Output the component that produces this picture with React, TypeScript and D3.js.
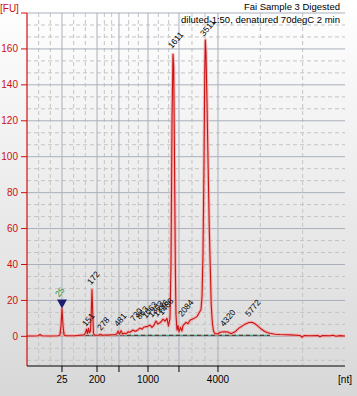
import React from "react";
import * as d3 from "d3";

// ---- data ----
// migration time (s) and fluorescence (FU) of the red electropherogram trace
const traceTime = [
  20.0, 21.0, 21.83, 22.17, 22.5, 23.83, 25.17, 25.5, 25.67, 25.83, 26.0, 26.17, 26.5, 28.0, 28.83,
  29.5, 29.75, 29.92, 30.08, 30.25, 30.42, 30.58, 30.72, 30.83, 30.95, 31.08, 31.33, 32.0, 32.25,
  32.5, 33.83, 34.67, 35.0, 35.17, 35.42, 35.67, 35.92, 36.25, 36.5, 36.83, 37.17, 37.67, 38.0,
  38.33, 38.83, 39.17, 39.5, 40.0, 40.5, 40.83, 41.08, 41.5, 41.83, 42.33, 42.67, 43.0, 43.33,
  43.58, 43.83, 44.0, 44.17, 44.33, 44.45, 44.58, 44.72, 44.83, 45.0, 45.17, 45.33, 45.58, 45.83,
  46.0, 46.5, 46.83, 47.17, 47.5, 47.83, 48.33, 48.67, 49.0, 49.17, 49.33, 49.5, 49.62, 49.72,
  49.83, 50.0, 50.17, 50.38, 50.55, 50.7, 50.88, 51.08, 51.33, 51.83, 52.17, 52.83, 53.5, 54.0,
  54.67, 55.33, 56.33, 57.0, 57.5, 58.0, 58.5, 59.0, 59.5, 60.0, 60.5, 61.33, 62.17, 63.83, 65.5,
  65.83, 66.17, 67.17, 68.5, 68.83, 69.17, 70.5, 71.0, 71.5, 72.17, 73.0,
];
const traceFU = [
  0.2, 0.2, 0.3, 1.0, 0.3, 0.2, 0.3, 0.8, 6, 15.5, 6, 0.8, 0.4, 0.3, 0.6,
  0.8, 2, 4, 1.5, 4.5, 2, 3, 14, 26, 14, 1.5, 0.6, 0.6, 1.2,
  0.6, 0.8, 1.0, 1.5, 3, 1.2, 3.2, 1.3, 1.8, 1.4, 2.5, 2.3, 3.5, 2.8,
  3.2, 4.6, 4, 5.2, 5.4, 6.3, 5, 5.8, 8.5, 6.8, 8, 9.6, 8.5, 10,
  5.7, 10, 40, 120, 157, 150, 100, 40, 12, 3.5, 6, 2.5, 5, 3,
  6, 7.8, 7, 9, 9.5, 10, 11, 13, 15, 22, 45, 95, 145, 165,
  158, 130, 98, 60, 38, 18, 8, 3, 1.5, 1.3, 2.3, 2.6, 2.4, 1.5,
  2.5, 4.6, 6.8, 7.7, 7.8, 7, 5.7, 4.2, 3, 2.2, 1.7, 1.2, 1.0, 0.8, 0.5,
  -0.5, 0.4, 0.3, 0.5, -0.2, 0.4, 0.3, 0.6, 0.1, 0.4, 0.2,
];

// ladder: size (nt) and its migration time (s)
const ladderSizes = [25, 200, 500, 1000, 2000, 4000];
const ladderTimes = [25.83, 31.67, 35.33, 40.17, 45.33, 51.83];
const ladderLabels = ["25", "200", "", "1000", "", "4000"];

const yTicks = [0, 20, 40, 60, 80, 100, 120, 140, 160];

// peak labels: text, time (s), FU at label start
const peakLabels = ["151", "172", "278", "481", "730", "863", "1063", "1303", "1386", "1466", "1611", "2084", "3511", "4320", "5772"];
const peakLabelTime = [29.83, 30.67, 32.33, 35.17, 37.83, 38.83, 39.83, 40.83, 41.67, 42.5, 44.17, 45.83, 49.5, 52.83, 57.0];
const peakLabelFU = [5.2, 28.5, 3, 5.2, 8, 9.1, 9.6, 10.2, 10.7, 11.5, 160, 10.7, 166.8, 5.2, 10.7];

// baseline segment (s) and level (FU)
const baselineTime = [28.5, 60.5];
const baselineFU = [0.5, 0.5];
const markerTime = 25.83;
const markerFU = 15.5;

const title = "Fai Sample 3 Digested";
const subtitle = "diluted 1:50, denatured 70degC 2 min";

export default function App() {
  const W = 357, H = 396;
  const x = d3.scaleLinear().domain([20, 73]).range([27, 345]);
  const y = d3.scaleLinear().domain([-16.5, 180]).range([366, 13]);
  const [x0, x1] = x.range();
  const [yb, yt] = y.range();

  // vertical minor grid: thirds between boundaries
  const bounds = [x.domain()[0], ...ladderTimes, x.domain()[1]];
  const vMinor: number[] = [];
  for (let i = 0; i < bounds.length - 1; i++) {
    const a = bounds[i], b = bounds[i + 1];
    vMinor.push(a + (b - a) / 3, a + (2 * (b - a)) / 3);
  }
  const hMajor = d3.range(0, 181, 20);
  const hMinor: number[] = [];
  for (let v = -40 / 3; v < 180; v += 20 / 3) {
    if (Math.abs(v / 20 - Math.round(v / 20)) > 0.01 && v > -16.5) hMinor.push(v);
  }

  const pts: [number, number][] = traceTime.map((t, i) => [t, traceFU[i]]);
  const line = d3.line<[number, number]>().x((d) => x(d[0])).y((d) => y(d[1]));
  const path = line(pts) || "";

  const font = "'Liberation Sans', Arial, sans-serif";
  const mx = x(markerTime), my = y(markerFU);

  return (
    <svg width={W} height={H} style={{ position: "fixed", left: 0, top: 0 }} fontFamily={font}>
      <defs>
        <linearGradient id="bg" x1="0" y1="0" x2="0" y2="1">
          <stop offset="0" stopColor="#ffffff" />
          <stop offset="1" stopColor="#d8d8d8" />
        </linearGradient>
        <clipPath id="plot">
          <rect x={x0} y={yt} width={x1 - x0} height={yb - yt} />
        </clipPath>
      </defs>
      <rect width={W} height={H} fill="url(#bg)" />

      {/* grid */}
      {hMinor.map((v, i) => (
        <line key={"hm" + i} x1={x0} x2={x1} y1={y(v)} y2={y(v)} stroke="#c4c4c4" strokeDasharray="4,3" />
      ))}
      {vMinor.map((v, i) => (
        <line key={"vm" + i} x1={x(v)} x2={x(v)} y1={yt} y2={yb} stroke="#c4c4c4" strokeDasharray="4,3" />
      ))}
      {hMajor.map((v) => (
        <line key={"hM" + v} x1={x0} x2={x1} y1={y(v)} y2={y(v)} stroke="#a9b0bb" />
      ))}
      {ladderTimes.map((t, i) => (
        <line key={"vM" + i} x1={x(t)} x2={x(t)} y1={yt} y2={yb} stroke="#a9b0bb" />
      ))}

      {/* baseline */}
      <g clipPath="url(#plot)">
        <line x1={x(baselineTime[0])} x2={x(baselineTime[1])} y1={y(baselineFU[0])} y2={y(baselineFU[1])} stroke="#4aa090" strokeWidth={1.2} />
        <line x1={x(baselineTime[0])} x2={x(baselineTime[1])} y1={y(baselineFU[0])} y2={y(baselineFU[1])} stroke="#5a4030" strokeWidth={1.2} strokeDasharray="4,3" />
        <line x1={x(markerTime) - 3} x2={x(markerTime) + 3.5} y1={y(2)} y2={y(2)} stroke="#5a7060" strokeWidth={1.2} />
        {/* trace */}
        <path d={path} fill="none" stroke="#f3a3a3" strokeWidth={3.2} strokeOpacity={0.75} strokeLinejoin="round" />
        <path d={path} fill="none" stroke="#c81414" strokeWidth={1.1} strokeLinejoin="round" />
      </g>

      {/* marker triangle */}
      <path d={`M${mx - 5},${my - 9}L${mx + 5},${my - 9}L${mx},${my}Z`} fill="#1e1e70" />
      <text transform={`translate(${mx - 3},${my - 11}) rotate(-50)`} fontSize={8.5} fill="#2a8a2a">25</text>

      {/* peak labels */}
      {peakLabels.map((s, i) => (
        <text key={"pl" + i} transform={`translate(${x(peakLabelTime[i])},${y(peakLabelFU[i])}) rotate(-50)`} fontSize={8.5} fill="#000">
          {s}
        </text>
      ))}

      {/* axes */}
      <line x1={x0} x2={x0} y1={yt} y2={yb} stroke="#cc1010" strokeWidth={1.2} />
      <line x1={x0} x2={x1} y1={yb} y2={yb} stroke="#000" />
      {[...yTicks, 180].map((v) => (
        <line key={"yt" + v} x1={x0 - 6} x2={x0} y1={y(v)} y2={y(v)} stroke="#cc1010" />
      ))}
      {yTicks.map((v) => (
        <text key={"yl" + v} x={x0 - 9} y={y(v) + 3.5} textAnchor="end" fontSize={10} fill="#cc1010">
          {v}
        </text>
      ))}
      <text x={0} y={12} fontSize={10} fill="#cc1010">[FU]</text>
      {ladderTimes.map((t, i) => (
        <g key={"xt" + i}>
          <line x1={x(t)} x2={x(t)} y1={yb} y2={yb + 6} stroke="#000" />
          <text x={x(t)} y={383} textAnchor="middle" fontSize={10} fill="#000">
            {ladderLabels[i]}
          </text>
        </g>
      ))}
      <text x={352} y={383} textAnchor="end" fontSize={10} fill="#000">[nt]</text>

      <text x={340} y={10} textAnchor="end" fontSize={9.5} fill="#000">{title}</text>
      <text x={340} y={23} textAnchor="end" fontSize={9.5} fill="#000">{subtitle}</text>
    </svg>
  );
}
